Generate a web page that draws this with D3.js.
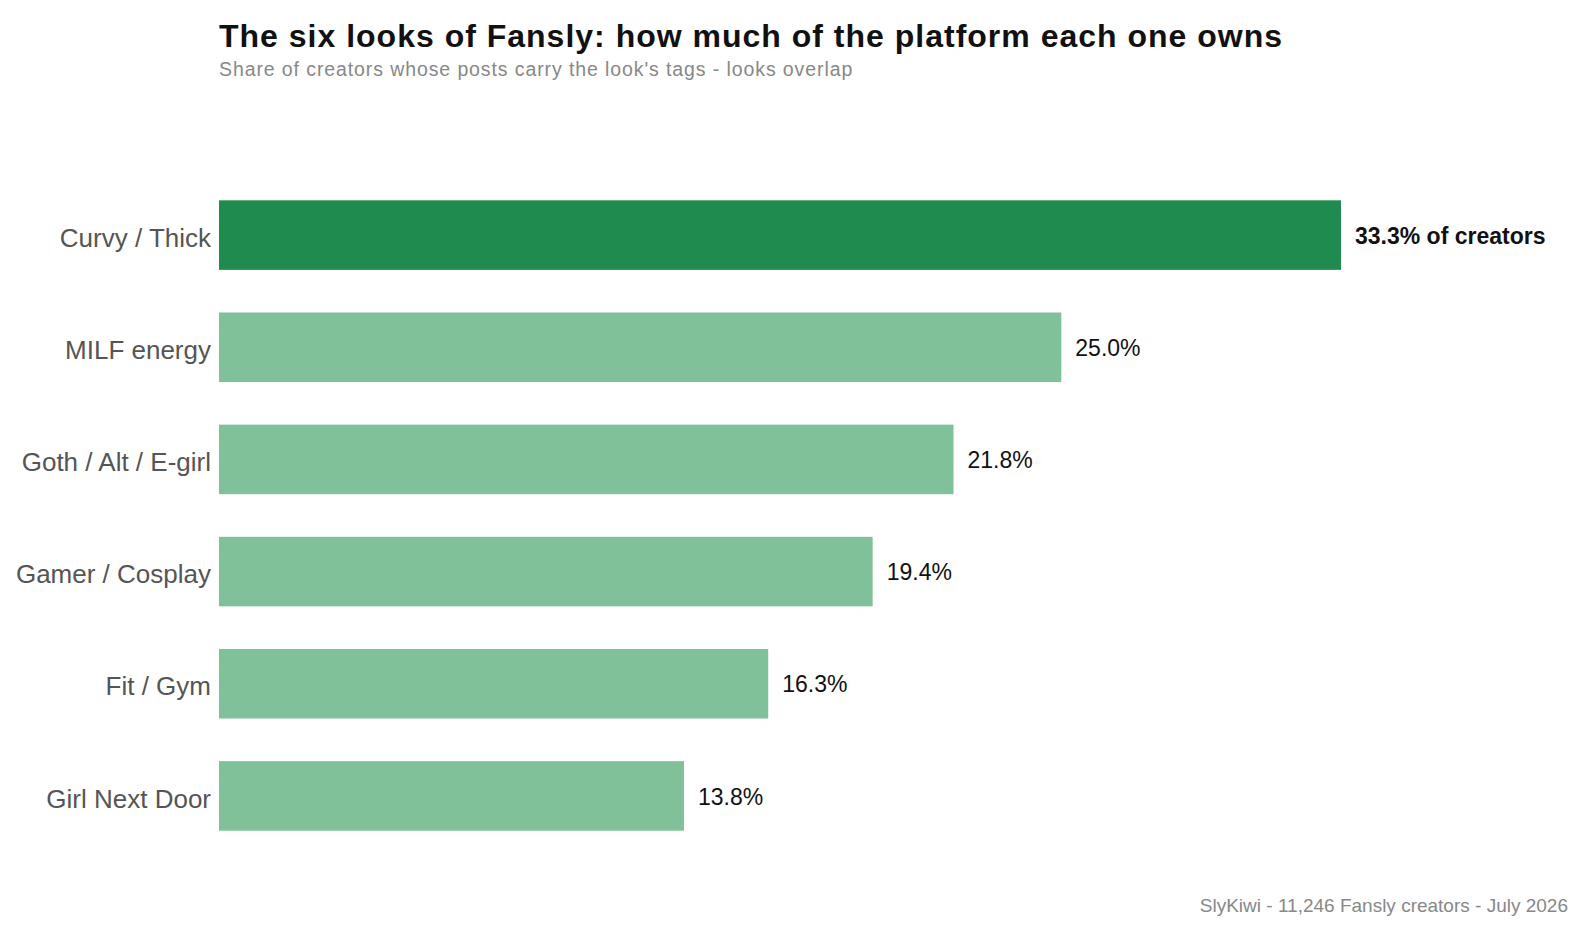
<!DOCTYPE html>
<html>
<head>
<meta charset="utf-8">
<script src="https://cdn.jsdelivr.net/npm/d3@7"></script>
<style>
  body { margin: 0; background: #fff; }
  svg { display: block; font-family: "Liberation Sans", Arial, Helvetica, sans-serif; }
  .title { font-size: 32px; font-weight: bold; fill: #111; letter-spacing: 1px; }
  .subtitle { font-size: 19.5px; fill: #888; letter-spacing: 0.9px; }
  .cat { font-size: 26px; fill: #555; }
  .val { font-size: 23px; fill: #111; }
  .val.top { font-weight: bold; }
  .source { font-size: 19px; fill: #888; }
</style>
</head>
<body>
<div id="chart"></div>
<script>
var width = 1582, height = 931;
var margin = {top: 179, right: 241, bottom: 79, left: 219};

// data
var looks = ["Curvy / Thick", "MILF energy", "Goth / Alt / E-girl", "Gamer / Cosplay", "Fit / Gym", "Girl Next Door"];
var shares = [33.3, 25.0, 21.8, 19.4, 16.3, 13.8];

var title = "The six looks of Fansly: how much of the platform each one owns";
var subtitle = "Share of creators whose posts carry the look's tags - looks overlap";
var source = "SlyKiwi - 11,246 Fansly creators - July 2026";

var rows = looks.map(function(d, i) { return {look: d, share: shares[i]}; });

var svg = d3.select("#chart").append("svg")
  .attr("width", width)
  .attr("height", height);

var x = d3.scaleLinear()
  .domain([0, d3.max(shares)])
  .range([margin.left, width - margin.right]);

var y = d3.scaleBand()
  .domain(looks)
  .range([margin.top, height - margin.bottom])
  .paddingInner(0.38)
  .paddingOuter(0.19);

svg.append("text")
  .attr("class", "title")
  .attr("x", margin.left)
  .attr("y", 47)
  .text(title);

svg.append("text")
  .attr("class", "subtitle")
  .attr("x", margin.left)
  .attr("y", 76)
  .text(subtitle);

svg.selectAll(".bar")
  .data(rows)
  .enter().append("rect")
    .attr("class", "bar")
    .attr("x", x(0))
    .attr("y", function(d) { return y(d.look); })
    .attr("width", function(d) { return x(d.share) - x(0); })
    .attr("height", y.bandwidth())
    .attr("fill", function(d, i) { return i === 0 ? "#1f8b4e" : "#80c19a"; });

svg.selectAll(".cat")
  .data(rows)
  .enter().append("text")
    .attr("class", "cat")
    .attr("x", x(0) - 8)
    .attr("y", function(d) { return y(d.look) + y.bandwidth() / 2; })
    .attr("dy", "0.45em")
    .attr("text-anchor", "end")
    .text(function(d) { return d.look; });

svg.selectAll(".val")
  .data(rows)
  .enter().append("text")
    .attr("class", function(d, i) { return i === 0 ? "val top" : "val"; })
    .attr("x", function(d) { return x(d.share) + 14; })
    .attr("y", function(d) { return y(d.look) + y.bandwidth() / 2; })
    .attr("dy", "0.38em")
    .text(function(d, i) {
      return d3.format(".1f")(d.share) + "%" + (i === 0 ? " of creators" : "");
    });

svg.append("text")
  .attr("class", "source")
  .attr("x", 1568)
  .attr("y", 912)
  .attr("text-anchor", "end")
  .text(source);
</script>
</body>
</html>
